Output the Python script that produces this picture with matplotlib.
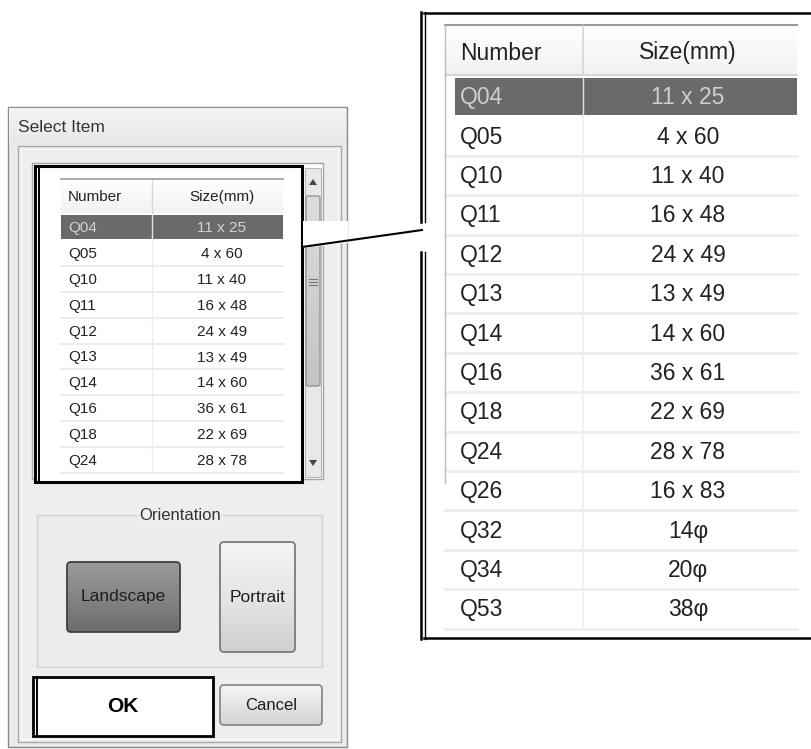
import numpy as np
import matplotlib
matplotlib.use("Agg")
import matplotlib.pyplot as plt
from matplotlib.patches import Rectangle, Polygon, FancyBboxPatch

# table content
numbers = ["Q04", "Q05", "Q10", "Q11", "Q12", "Q13", "Q14",
           "Q16", "Q18", "Q24", "Q26", "Q32", "Q34", "Q53"]
sizes = ["11 x 25", "4 x 60", "11 x 40", "16 x 48", "24 x 49", "13 x 49", "14 x 60",
         "36 x 61", "22 x 69", "28 x 78", "16 x 83", "14φ", "20φ", "38φ"]
headers = ["Number", "Size(mm)"]
visible_rows = 10          # rows visible in the small list box
selected = 0               # highlighted row
title = "Select Item"
group_title = "Orientation"
buttons = ["Landscape", "Portrait"]

plt.rcParams['font.family'] = ['Liberation Sans', 'DejaVu Sans']

fig = plt.figure(figsize=(8.12, 7.49), dpi=100)
ax = fig.add_axes([0, 0, 1, 1])
ax.axis('off')


def rect(x0, y0, x1, y1, fc='none', ec='none', lw=1.0, z=1):
    p = Rectangle((x0, y0), x1 - x0, y1 - y0, facecolor=fc, edgecolor=ec, linewidth=lw, zorder=z)
    ax.add_patch(p)
    return p


def gradient(x0, y0, x1, y1, colors, z=1, clip=None):
    cols = np.array([matplotlib.colors.to_rgb(c) for c in colors])
    t = np.linspace(0, 1, 64)
    pos = np.linspace(0, 1, len(cols))
    grad = np.stack([np.interp(t, pos, cols[:, k]) for k in range(3)], axis=1)
    img = grad[:, None, :]
    im = ax.imshow(img, extent=(x0, x1, y1, y0), aspect='auto', zorder=z, interpolation='bilinear')
    if clip is not None:
        im.set_clip_path(clip)
    return im


def button(x0, y0, x1, y1, colors, ec, label, tc='#1e1e1e', fs=12.5, z=3):
    p = FancyBboxPatch((x0, y0), x1 - x0, y1 - y0, boxstyle="round,pad=0,rounding_size=4",
                       facecolor='none', edgecolor=ec, linewidth=1.3, zorder=z + 1)
    ax.add_patch(p)
    gradient(x0, y0, x1, y1, colors, z=z, clip=p)
    ax.text((x0 + x1) / 2, (y0 + y1) / 2, label, ha='center', va='center',
            fontsize=fs, color=tc, zorder=z + 2)


# ---- dialog ----
rect(8, 107, 347, 747, fc='#ebebeb', ec='#8a8a8a', lw=1.0, z=1)
gradient(9, 108, 346, 145, ['#f3f3f3', '#e8e8e8'], z=1.2)
ax.text(18, 127, title, ha='left', va='center', fontsize=12.5, color='#333333', zorder=2)
rect(18, 146, 341, 742, fc='#eeeeee', ec='#a8a8a8', lw=1.0, z=1.5)
rect(21, 149, 338, 739, fc='none', ec='#fafafa', lw=0.8, z=1.6)

# list box behind the callout
rect(32, 163, 323, 479, fc='white', ec='#a5a5a5', lw=1.0, z=2)
rect(305, 168, 321, 477, fc='#e8e8e8', ec='#b8b8b8', lw=0.8, z=2.1)
ax.add_patch(Polygon([[309, 185], [317, 185], [313, 179]], closed=True, fc='#444444', ec='none', zorder=2.3))
ax.add_patch(Polygon([[309, 460], [317, 460], [313, 466]], closed=True, fc='#444444', ec='none', zorder=2.3))
thumb = FancyBboxPatch((306, 196), 14, 190, boxstyle="round,pad=0,rounding_size=2",
                       fc='none', ec='#8e8e8e', lw=0.9, zorder=2.4)
ax.add_patch(thumb)
gradient(306, 196, 320, 386, ['#dcdcdc', '#c4c4c4'], z=2.2, clip=thumb)
for gy in (279, 282, 285):
    ax.plot([309, 317], [gy, gy], color='#777777', lw=0.8, zorder=2.5)

# ---- callout box with the small table ----
rect(35, 166, 302, 482, fc='white', ec='black', lw=2.2, z=3)
ax.plot([39.5, 39.5], [166, 482], color='black', lw=1.4, zorder=3.2)

lx0, lx1, ldiv = 61, 283, 152
gradient(lx0, 180, lx1, 213, ['#ffffff', '#f2f2f2'], z=3.1)
ax.plot([lx0, lx1], [179, 179], color='#9a9a9a', lw=1.2, zorder=3.3)
ax.plot([ldiv, ldiv], [180, 213], color='#d6d6d6', lw=1.0, zorder=3.3)
ax.text(68, 197, headers[0], ha='left', va='center', fontsize=11, color='#222222', zorder=3.5)
ax.text(222, 197, headers[1], ha='center', va='center', fontsize=11, color='#222222', zorder=3.5)

lrow = 25.9
ltop = 215
for i in range(visible_rows):
    top = ltop + i * lrow
    cy = top + 13
    if i == selected:
        rect(lx0, top, lx1, top + 24, fc='#6a6a6a', z=3.2)
        ax.plot([ldiv, ldiv], [top, top + 24], color='#e0e0e0', lw=1.0, zorder=3.3)
        tc = '#d2d2d2'
    else:
        ax.plot([lx0, lx1], [top + lrow - 1, top + lrow - 1], color='#ececec', lw=1.4, zorder=3.15)
        ax.plot([ldiv, ldiv], [top, top + lrow], color='#eeeeee', lw=1.0, zorder=3.15)
        tc = '#222222'
    ax.text(68, cy, numbers[i], ha='left', va='center', fontsize=11, color=tc, zorder=3.5)
    ax.text(222, cy, sizes[i], ha='center', va='center', fontsize=11, color=tc, zorder=3.5)

# ---- connector ----
ax.add_patch(Polygon([[303, 221], [348, 221], [348, 243], [303, 248]], closed=True,
                     fc='white', ec='none', zorder=3.05))
ax.plot([302, 422], [247, 230], color='black', lw=1.5, zorder=4)

# ---- enlarged table ----
ax.plot([424, 812], [13, 13], color='black', lw=1.8, zorder=4)
ax.plot([424, 812], [638, 638], color='black', lw=1.8, zorder=4)
for seg in ([12, 222], [252, 639]):
    ax.plot([421, 421], seg, color='black', lw=1.8, zorder=4)
    ax.plot([425, 425], seg, color='black', lw=1.0, zorder=4)

rx0, rx1, rdiv = 445, 797, 583
gradient(rx0, 26, rx1, 75, ['#ffffff', '#f1f1f1'], z=2)
ax.plot([rx0, rx1], [25, 25], color='#9a9a9a', lw=1.5, zorder=2.5)
ax.plot([rx0, rx1], [75, 75], color='#cfcfcf', lw=1.2, zorder=2.5)
ax.plot([rdiv, rdiv], [26, 75], color='#d6d6d6', lw=1.2, zorder=2.5)
ax.plot([rx0, rx0], [25, 483], color='#bdbdbd', lw=1.0, zorder=2.5)
ax.text(460, 53, headers[0], ha='left', va='center', fontsize=16.5, color='#222222', zorder=3)
ax.text(688, 53, headers[1], ha='center', va='center', fontsize=16.5, color='#222222', zorder=3)

rrow = 39.4
rtop = 78
for i in range(len(numbers)):
    top = rtop + i * rrow
    cy = top + rrow / 2
    if i == selected:
        rect(455, top, rx1, top + 37, fc='#6a6a6a', z=2.2)
        ax.plot([rdiv, rdiv], [top, top + 37], color='#e6e6e6', lw=1.0, zorder=2.3)
        tc = '#cfcfcf'
    else:
        ax.plot([rx0, rx1], [top + rrow - 1, top + rrow - 1], color='#eeeeee', lw=2.0, zorder=2.1)
        ax.plot([rdiv, rdiv], [top, top + rrow], color='#efefef', lw=1.2, zorder=2.1)
        tc = '#222222'
    ax.text(460, cy, numbers[i], ha='left', va='center', fontsize=16.5, color=tc, zorder=3)
    ax.text(688, cy, sizes[i], ha='center', va='center', fontsize=16.5, color=tc, zorder=3)

# ---- orientation group ----
rect(37, 515, 322, 667, fc='#ececec', ec='#d2d2d2', lw=1.0, z=2)
ax.text(180, 515, group_title, ha='center', va='center', fontsize=12, color='#333333', zorder=3,
        bbox=dict(boxstyle='square,pad=0.15', fc='#eeeeee', ec='none'))
button(67, 562, 180, 632, ['#9a9a9a', '#858585', '#6c6c6c'], '#404040', buttons[0])
button(220, 542, 295, 652, ['#f4f4f4', '#e6e6e6', '#cfcfcf'], '#7a7a7a', buttons[1])

# ---- OK / Cancel ----
rect(33, 677, 213, 736, fc='white', ec='black', lw=2.0, z=3)
ax.plot([37, 37], [677, 736], color='black', lw=1.4, zorder=3.2)
ax.text(123, 706, "OK", ha='center', va='center', fontsize=15, fontweight='bold', color='black', zorder=4)
button(220, 685, 322, 725, ['#f6f6f6', '#e4e4e4', '#d4d4d4'], '#8a8a8a', "Cancel", fs=12)

ax.set_xlim(0, 812)
ax.set_ylim(749, 0)
fig.savefig("out.png", dpi=100, facecolor='white')
